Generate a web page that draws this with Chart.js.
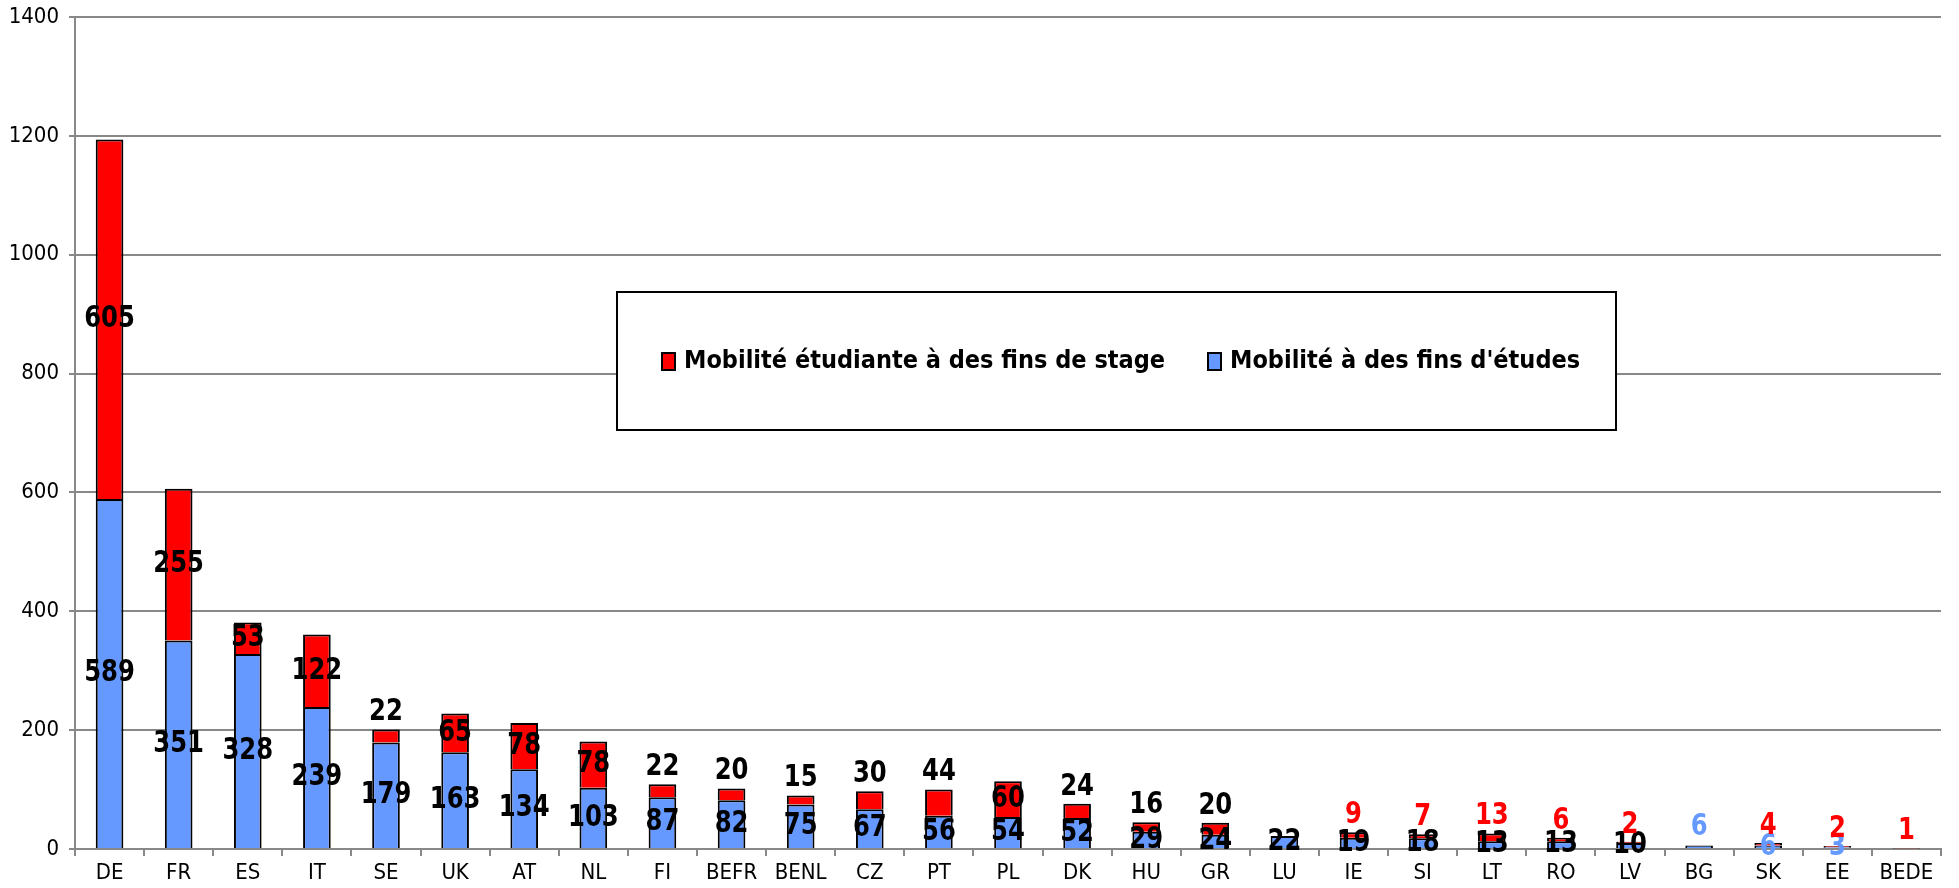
<!DOCTYPE html>
<html>
<head>
<meta charset="utf-8">
<script src="https://cdn.jsdelivr.net/npm/chart.js@4/dist/chart.umd.min.js"></script>
<style>
  html, body { margin: 0; padding: 0; background: #fff; }
  #wrap { width: 1959px; height: 888px; position: relative; }
</style>
</head>
<body>
<div id="wrap"><canvas id="myChart"></canvas></div>
<script>
// pays
const categories = ['DE', 'FR', 'ES', 'IT', 'SE', 'UK', 'AT', 'NL', 'FI', 'BEFR', 'BENL', 'CZ', 'PT', 'PL',
    'DK', 'HU', 'GR', 'LU', 'IE', 'SI', 'LT', 'RO', 'LV', 'BG', 'SK', 'EE', 'BEDE'];
// mobilité à des fins d'études (bleu)
const etudes = [589, 351, 328, 239, 179, 163, 134, 103, 87, 82, 75, 67, 56, 54, 52, 29, 24, 22, 19, 18, 13, 13, 10, 6, 6, 3, 0];
// mobilité étudiante à des fins de stage (rouge)
const stage = [605, 255, 53, 122, 22, 65, 78, 78, 22, 20, 15, 30, 44, 60, 24, 16, 20, 0, 9, 7, 13, 6, 2, 0, 4, 2, 1];
const yTicks = [0, 200, 400, 600, 800, 1000, 1200, 1400];

const RED = '#FF0000';
const BLUE = '#6699FF';
const FONT = '"Liberation Sans Narrow", "DejaVu Sans Condensed", "Noto Sans", sans-serif';
const redLabelFrom = categories.indexOf('IE');

const ctx = document.getElementById('myChart');

// étiquettes de valeurs dans / au-dessus des barres
const valueLabels = {
    id: 'valueLabels',
    afterDatasetsDraw(chart) {
        const c = chart.ctx;
        c.save();
        c.font = 'bold 30px ' + FONT;
        c.textAlign = 'center';
        c.textBaseline = 'middle';
        chart.data.datasets.forEach((ds, di) => {
            const meta = chart.getDatasetMeta(di);
            meta.data.forEach((bar, i) => {
                const v = ds.data[i];
                if (!v) return;
                let y = (bar.y + bar.base) / 2;
                let color = '#000';
                if (ds.key === 'stage') {
                    if (v < 50) y = bar.y - 17;
                    if (i >= redLabelFrom) color = RED;
                } else {
                    if (v < 8) color = BLUE;
                    if (v < 10 && !stage[i]) y = bar.y - 18;
                }
                c.save();
                c.translate(bar.x, y);
                c.scale(0.9, 1);
                c.fillStyle = color;
                c.fillText(String(v), 0, 0);
                c.restore();
            });
        });
        c.restore();
    }
};

// légende encadrée dans la zone du graphique
const boxLegend = {
    id: 'boxLegend',
    afterDraw(chart) {
        const c = chart.ctx;
        const x0 = 617, y0 = 292, w = 999, h = 138;
        c.save();
        c.fillStyle = '#fff';
        c.fillRect(x0, y0, w, h);
        c.strokeStyle = '#000';
        c.lineWidth = 2;
        c.strokeRect(x0, y0, w, h);
        c.font = 'bold 25px ' + FONT;
        c.textBaseline = 'middle';
        const items = [chart.data.datasets[1], chart.data.datasets[0]];
        const xs = [662, 1208];
        const cy = y0 + h / 2;
        items.forEach((ds, k) => {
            c.fillStyle = ds.backgroundColor;
            c.fillRect(xs[k], cy - 8, 13, 17);
            c.strokeStyle = '#000';
            c.lineWidth = 2;
            c.strokeRect(xs[k], cy - 8, 13, 17);
            c.fillStyle = '#000';
            c.fillText(ds.label, xs[k] + 22, cy);
        });
        c.restore();
    }
};

const chartConfig = {
    type: 'bar',
    data: {
        labels: categories,
        datasets: [{
            key: 'etudes',
            label: "Mobilité à des fins d'études",
            data: etudes,
            backgroundColor: BLUE,
            borderColor: '#000',
            borderWidth: 2,
            barPercentage: 0.4,
            categoryPercentage: 1,
        }, {
            key: 'stage',
            label: 'Mobilité étudiante à des fins de stage',
            data: stage,
            backgroundColor: RED,
            borderColor: '#000',
            borderWidth: 2,
            barPercentage: 0.4,
            categoryPercentage: 1,
        }],
    },
    options: {
        responsive: true,
        maintainAspectRatio: false,
        animation: false,
        layout: { padding: { top: 17, right: 18, bottom: 0, left: 0 } },
        plugins: {
            legend: { display: false },
            tooltip: { enabled: false },
        },
        scales: {
            x: {
                stacked: true,
                offset: true,
                grid: { display: true, drawOnChartArea: false, offset: true, color: '#888', lineWidth: 2, tickLength: 7 },
                border: { color: '#888', width: 2 },
                ticks: { color: '#000', font: { family: FONT, size: 22 }, padding: 4, maxRotation: 0, autoSkip: false },
                afterFit: (s) => { s.height = 39; },
            },
            y: {
                stacked: true,
                min: 0,
                max: 1400,
                afterBuildTicks: (s) => { s.ticks = yTicks.map(v => ({ value: v })); },
                grid: { color: '#888', lineWidth: 2, tickLength: 6 },
                border: { color: '#888', width: 2 },
                ticks: { color: '#000', font: { family: FONT, size: 22 }, padding: 10, callback: (v) => String(v) },
                afterFit: (s) => { s.width = 75; s.paddingTop = 0; s.paddingBottom = 0; },
            },
        },
    },
    plugins: [valueLabels, boxLegend],
};
const chart = new Chart(ctx, chartConfig);
</script>
</body>
</html>
